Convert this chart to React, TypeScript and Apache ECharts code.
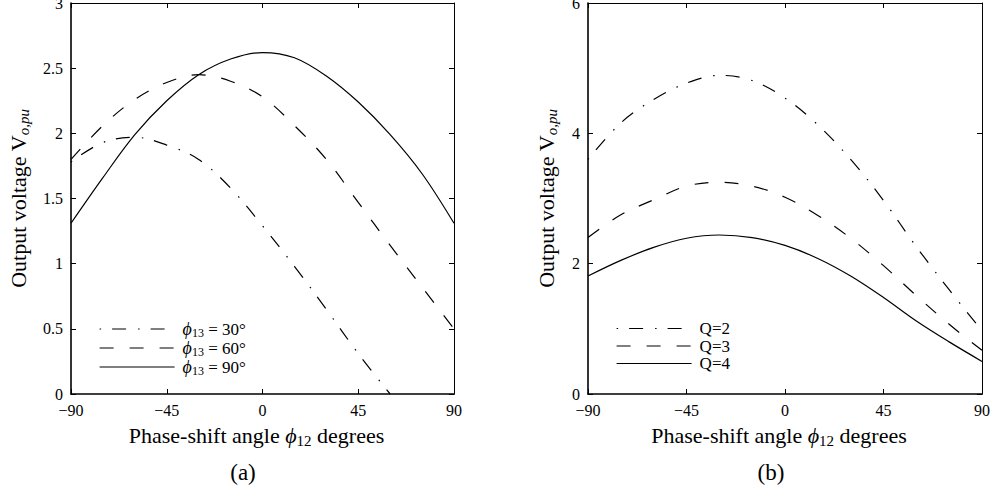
import React, { useEffect, useRef } from "react";
import * as echarts from "echarts";

// ---- data ----
const angles = [-90, -75, -60, -45, -30, -15, 0, 15, 30, 45, 60, 75, 90];

// (a) phi13 curves
const phi30 = [1.78, 1.93, 1.97, 1.91, 1.8, 1.58, 1.29, 0.98, 0.65, 0.31, 0.0];
const phi60 = [1.8, 2.06, 2.26, 2.39, 2.45, 2.4, 2.28, 2.06, 1.8, 1.47, 1.14, 0.82, 0.5];
const phi90 = [1.31, 1.66, 1.99, 2.25, 2.45, 2.57, 2.62, 2.58, 2.44, 2.24, 1.99, 1.69, 1.31];
const phiNames = ["30°", "60°", "90°"];

// (b) Q curves
const q2 = [3.6, 4.16, 4.52, 4.77, 4.89, 4.81, 4.54, 4.13, 3.6, 2.97, 2.26, 1.6, 0.97];
const q3 = [2.4, 2.75, 2.98, 3.19, 3.25, 3.19, 3.02, 2.74, 2.39, 1.97, 1.51, 1.07, 0.67];
const q4 = [1.81, 2.05, 2.25, 2.39, 2.44, 2.4, 2.28, 2.08, 1.81, 1.48, 1.12, 0.8, 0.5];
const qNames = ["Q=2", "Q=3", "Q=4"];

const FONT = "Times New Roman, Liberation Serif, DejaVu Serif, serif";
const DASHDOT = [1.5, 11, 14, 12];
const DASHED = [14, 16];
const SOLID: any = "solid";
const styles = [DASHDOT, DASHED, SOLID];

const pairs = (vals: number[]) => vals.map((v, i) => [angles[i], v]);
const tickFmt = (v: number) => (v < 0 ? "\u2212" + Math.abs(v) : String(v));

const richBase = {
  t: { fontFamily: FONT, fontSize: 17, color: "#000", lineHeight: 19 },
  i: { fontFamily: FONT, fontSize: 18, fontStyle: "italic", color: "#000", lineHeight: 19 },
  s: { fontFamily: FONT, fontSize: 12, color: "#000", lineHeight: 19, verticalAlign: "bottom" },
};
const richName = {
  t: { fontFamily: FONT, fontSize: 22, color: "#000", lineHeight: 26 },
  i: { fontFamily: FONT, fontSize: 22, fontStyle: "italic", color: "#000", lineHeight: 26 },
  s: { fontFamily: FONT, fontSize: 15, color: "#000", lineHeight: 26, verticalAlign: "bottom" },
  si: { fontFamily: FONT, fontSize: 15, fontStyle: "italic", color: "#000", lineHeight: 26, verticalAlign: "bottom" },
};

function App() {
  const ref = useRef<HTMLDivElement>(null);
  useEffect(() => {
    document.body.style.margin = "0";
    const chart = echarts.init(ref.current!, null, { renderer: "svg" });

    const grids = [
      { left: 71, top: 3, width: 383, height: 391, outerBoundsMode: "none", containLabel: false },
      { left: 588, top: 3, width: 394, height: 391, outerBoundsMode: "none", containLabel: false },
    ];

    const xBase = (gi: number, pos: "bottom" | "top") => ({
      type: "value",
      gridIndex: gi,
      position: pos,
      min: -90,
      max: 90,
      interval: 45,
      splitLine: { show: false },
      axisLine: { show: true, onZero: false, lineStyle: { color: "#000", width: pos === "bottom" ? 1.6 : 1 } },
      axisTick: { show: true, inside: true, length: 5, lineStyle: { color: "#000", width: 1 } },
      axisLabel: {
        show: pos === "bottom",
        formatter: tickFmt,
        fontFamily: FONT,
        fontSize: 16,
        color: "#000",
        margin: 8,
      },
    });

    const yBase = (gi: number, pos: "left" | "right", max: number, interval: number) => ({
      type: "value",
      gridIndex: gi,
      position: pos,
      min: 0,
      max,
      interval,
      splitLine: { show: false },
      axisLine: { show: true, onZero: false, lineStyle: { color: "#000", width: pos === "left" ? 1.6 : 1 } },
      axisTick: { show: true, inside: true, length: 5, lineStyle: { color: "#000", width: 1 } },
      axisLabel: {
        show: pos === "left",
        formatter: tickFmt,
        fontFamily: FONT,
        fontSize: 16,
        color: "#000",
        margin: 8,
      },
    });

    const xName = {
      name: "{t|Phase-shift angle }{i|ϕ}{s|12}{t| degrees}",
      nameLocation: "middle",
      nameGap: 28,
      nameTextStyle: { fontFamily: FONT, rich: richName, padding: [0, 12, 0, 0] },
    };
    const yName = (gap: number) => ({
      name: "{t|Output voltage V}{si|o,pu}",
      nameLocation: "middle",
      nameGap: gap,
      nameTextStyle: { fontFamily: FONT, rich: richName },
    });

    const mkSeries = (name: string, vals: number[], xi: number, yi: number, k: number) => ({
      type: "line",
      name,
      xAxisIndex: xi,
      yAxisIndex: yi,
      data: pairs(vals),
      symbol: "none",
      showSymbol: false,
      smooth: 0.35,
      clip: true,
      itemStyle: { color: "#000" },
      lineStyle: { color: "#000", width: 1.2, type: styles[k] },
    });

    const leftNames = phiNames.map((d) => "ϕ13 = " + d);
    const legendItem = (name: string, k: number) => ({
      name,
      itemStyle: { opacity: 0, color: "#000" },
      lineStyle: { color: "#000", width: 1.2, type: styles[k], opacity: 1 },
    });

    const legendBase = {
      orient: "vertical",
      top: 320,
      padding: 0,
      itemWidth: 75,
      itemHeight: 14,
      itemGap: 0.5,
      selectedMode: false,
      itemStyle: { opacity: 0 },
      textStyle: { fontFamily: FONT, rich: richBase, padding: [0, 0, 0, 3] },
    };

    const option: any = {
      animation: false,
      backgroundColor: "#fff",
      textStyle: { fontFamily: FONT },
      grid: grids,
      xAxis: [
        { ...xBase(0, "bottom"), ...xName },
        xBase(0, "top"),
        { ...xBase(1, "bottom"), ...xName },
        xBase(1, "top"),
      ],
      yAxis: [
        { ...yBase(0, "left", 3, 0.5), ...yName(40) },
        yBase(0, "right", 3, 0.5),
        { ...yBase(1, "left", 6, 2), ...yName(29) },
        yBase(1, "right", 6, 2),
      ],
      legend: [
        {
          ...legendBase,
          data: leftNames.map((n, k) => legendItem(n, k)),
          left: 99,
          formatter: (name: string) => "{i|ϕ}{s|13}{t| = " + name.split("= ")[1] + "}",
        },
        {
          ...legendBase,
          data: qNames.map((n, k) => legendItem(n, k)),
          left: 616,
          formatter: (name: string) => "{t|" + name + "}",
        },
      ],
      series: [
        mkSeries(leftNames[0], phi30, 0, 0, 0),
        mkSeries(leftNames[1], phi60, 0, 0, 1),
        mkSeries(leftNames[2], phi90, 0, 0, 2),
        mkSeries(qNames[0], q2, 2, 2, 0),
        mkSeries(qNames[1], q3, 2, 2, 1),
        mkSeries(qNames[2], q4, 2, 2, 2),
      ],
      graphic: [
        {
          type: "text",
          x: 243,
          y: 472,
          style: { text: "(a)", fontSize: 23, fontFamily: FONT, fill: "#000", align: "center", verticalAlign: "middle" },
        },
        {
          type: "text",
          x: 771,
          y: 472,
          style: { text: "(b)", fontSize: 23, fontFamily: FONT, fill: "#000", align: "center", verticalAlign: "middle" },
        },
      ],
    };
    chart.setOption(option);
    return () => chart.dispose();
  }, []);
  return <div ref={ref} style={{ width: 993, height: 491 }} />;
}

export default App;
